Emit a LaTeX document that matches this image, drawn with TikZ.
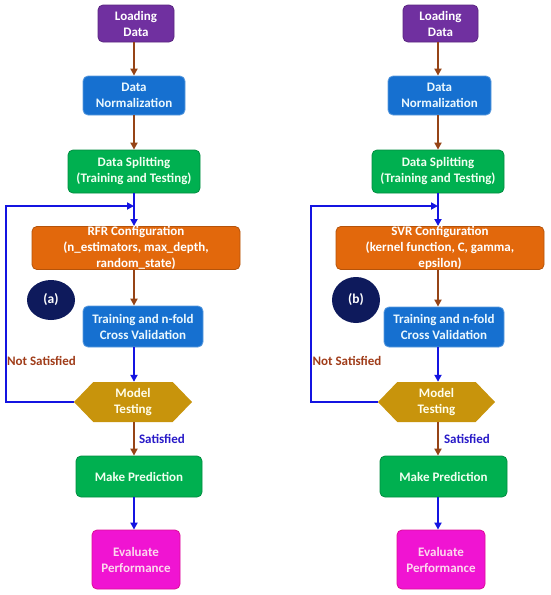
\documentclass[tikz,border=0pt]{standalone}
\usepackage{fontspec}
\setmainfont{Carlito}
\usetikzlibrary{arrows.meta,shapes.symbols,shapes.geometric}
\definecolor{cpurple}{RGB}{112,48,160}
\definecolor{cblue}{RGB}{22,112,208}
\definecolor{cgreen}{RGB}{0,176,80}
\definecolor{corange}{RGB}{226,104,12}
\definecolor{cgold}{RGB}{200,148,12}
\definecolor{cmag}{RGB}{240,20,210}
\definecolor{cnavy}{RGB}{14,26,92}
\definecolor{abrown}{RGB}{150,68,22}
\definecolor{ablue}{RGB}{20,20,225}
\definecolor{lred}{RGB}{160,60,25}
\definecolor{lblue}{RGB}{40,26,200}
\tikzset{
  box/.style={rounded corners=5pt, align=center, font=\bfseries\fontsize{13}{16}\selectfont, inner sep=0pt, line width=0.8pt},
  purplebox/.style={box, fill=cpurple, draw=cpurple!80!black, text=white},
  bluebox/.style={box, fill=cblue, draw=cblue!70!white, text=cyan!8!white},
  greenbox/.style={box, fill=cgreen, draw=cgreen!80!black, text=green!6!white},
  orangebox/.style={box, fill=corange, draw=corange!80!black, text=white},
  magbox/.style={box, fill=cmag, draw=cmag!60!purple, text=magenta!15!white},
  hexbox/.style={shape=signal, signal to=west and east, signal pointer angle=92, fill=cgold, draw=none, align=center, font=\bfseries\fontsize{13}{16}\selectfont, text=yellow!8!white, inner sep=0pt},
  tagell/.style={ellipse, fill=cnavy, text=white, font=\bfseries\fontsize{13.5}{15}\selectfont, inner sep=0pt},
  brarrow/.style={draw=abrown, line width=1.8pt, -{Triangle[length=7pt,width=7pt]}},
  blarrow/.style={draw=ablue, line width=1.8pt, -{Triangle[length=7pt,width=7pt]}},
  nslabel/.style={text=lred, font=\bfseries\fontsize{13}{15}\selectfont, inner sep=0pt},
  slabel/.style={text=lblue, font=\bfseries\fontsize{13}{15}\selectfont, inner sep=0pt}
}
\begin{document}
\begin{tikzpicture}[x=1pt,y=-1pt]
\useasboundingbox[fill=white] (0,0) rectangle (550,595);
% ---------- left column ----------
\coordinate (colL) at (134,0);
\node[purplebox, minimum width=76pt, minimum height=37pt] (loadL) at (136,23.5) {Loading\\Data};
\node[bluebox, minimum width=102pt, minimum height=39pt] (normL) at (134,95.5) {Data\\Normalization};
\node[greenbox, minimum width=132pt, minimum height=43pt] (splitL) at (134,171.5) {Data Splitting\\(Training and Testing)};
\node[orangebox, minimum width=208pt, minimum height=42pt] (confL) at (136,248) {RFR Configuration\\(n\_estimators, max\_depth,\\random\_state)};
\node[tagell, minimum width=48pt, minimum height=40pt] (tagL) at (51,300) {(a)};
\node[bluebox, minimum width=120pt, minimum height=41pt] (trainL) at (143,326.5) {Training and n-fold\\Cross Validation};
\node[hexbox, minimum width=118pt, minimum height=40pt] (mtL) at (133,402) {Model\\Testing};
\node[greenbox, minimum width=126pt, minimum height=41pt] (makeL) at (139,476.5) {Make Prediction};
\node[magbox, minimum width=88pt, minimum height=59pt] (evalL) at (136,559.5) {Evaluate\\Performance};
\node[nslabel] (nsL) at (41.5,361) {Not Satisfied};
\node[slabel] (sL) at (162,439) {Satisfied};
\coordinate (loopL1) at (6,402);
\coordinate (loopL2) at (6,206);
\coordinate (loopL3) at (134,206);
\draw[brarrow] (loadL.south -| colL) -- (normL.north -| colL);
\draw[brarrow] (normL.south -| colL) -- (splitL.north -| colL);
\draw[blarrow] (splitL.south -| colL) -- (confL.north -| colL);
\draw[brarrow] (confL.south -| colL) -- (trainL.north -| colL);
\draw[blarrow] (trainL.south -| colL) -- (mtL.north -| colL);
\draw[brarrow] (mtL.south -| colL) -- (makeL.north -| colL);
\draw[blarrow] (makeL.south -| colL) -- (evalL.north -| colL);
\draw[blarrow] (mtL.west) -- (loopL1) -- (loopL2) -- (loopL3);
% ---------- right column ----------
\coordinate (colR) at (438,0);
\node[purplebox, minimum width=75pt, minimum height=37pt] (loadR) at (440.5,23.5) {Loading\\Data};
\node[bluebox, minimum width=103pt, minimum height=39pt] (normR) at (439.5,95.5) {Data\\Normalization};
\node[greenbox, minimum width=132pt, minimum height=43pt] (splitR) at (438,171.5) {Data Splitting\\(Training and Testing)};
\node[orangebox, minimum width=208pt, minimum height=42pt] (confR) at (440,248) {SVR Configuration\\(kernel function, C, gamma,\\epsilon)};
\node[tagell, minimum width=48pt, minimum height=46pt] (tagR) at (356,300) {(b)};
\node[bluebox, minimum width=120pt, minimum height=40pt] (trainR) at (444,327) {Training and n-fold\\Cross Validation};
\node[hexbox, minimum width=117pt, minimum height=40pt] (mtR) at (436.5,402) {Model\\Testing};
\node[greenbox, minimum width=127pt, minimum height=41pt] (makeR) at (443.5,476.5) {Make Prediction};
\node[magbox, minimum width=88pt, minimum height=59pt] (evalR) at (441,559.5) {Evaluate\\Performance};
\node[nslabel] (nsR) at (347,361) {Not Satisfied};
\node[slabel] (sR) at (467,439) {Satisfied};
\coordinate (loopR1) at (311,402);
\coordinate (loopR2) at (311,206);
\coordinate (loopR3) at (438,206);
\draw[brarrow] (loadR.south -| colR) -- (normR.north -| colR);
\draw[brarrow] (normR.south -| colR) -- (splitR.north -| colR);
\draw[blarrow] (splitR.south -| colR) -- (confR.north -| colR);
\draw[brarrow] (confR.south -| colR) -- (trainR.north -| colR);
\draw[blarrow] (trainR.south -| colR) -- (mtR.north -| colR);
\draw[brarrow] (mtR.south -| colR) -- (makeR.north -| colR);
\draw[blarrow] (makeR.south -| colR) -- (evalR.north -| colR);
\draw[blarrow] (mtR.west) -- (loopR1) -- (loopR2) -- (loopR3);
\end{tikzpicture}
\end{document}
